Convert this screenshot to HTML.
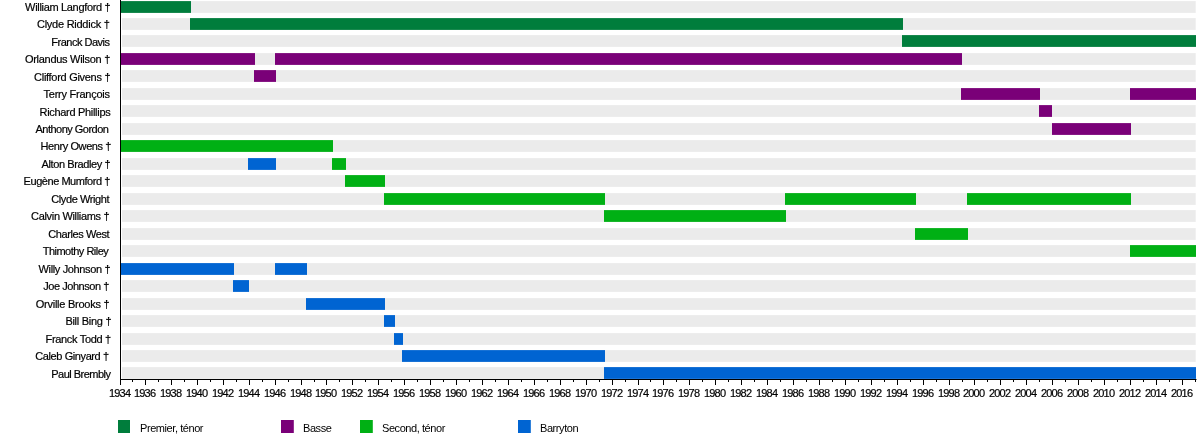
<!DOCTYPE html>
<html><head><meta charset="utf-8"><title>Timeline</title>
<style>
html,body{margin:0;padding:0;background:#fff;}
body{width:1200px;height:448px;overflow:hidden;position:relative;font-family:"Liberation Sans",sans-serif;}
svg{position:absolute;left:0;top:0;}
text{font-family:"Liberation Sans",sans-serif;fill:#000;stroke:#000;stroke-width:0.2px;}
.n{font-size:11px;}
.y{font-size:11px;text-anchor:middle;letter-spacing:-0.8px;}
.l{font-size:11px;letter-spacing:-0.43px;stroke:none;}
</style></head><body>
<svg width="1200" height="448" viewBox="0 0 1200 448">
<rect width="1200" height="448" fill="#fff"/>
<rect x="122" y="1.10" width="1073.7" height="11.8" fill="#ebebeb"/>
<rect x="122" y="18.10" width="1073.7" height="11.8" fill="#ebebeb"/>
<rect x="122" y="35.10" width="1073.7" height="11.8" fill="#ebebeb"/>
<rect x="122" y="53.10" width="1073.7" height="11.8" fill="#ebebeb"/>
<rect x="122" y="70.10" width="1073.7" height="11.8" fill="#ebebeb"/>
<rect x="122" y="88.10" width="1073.7" height="11.8" fill="#ebebeb"/>
<rect x="122" y="105.10" width="1073.7" height="11.8" fill="#ebebeb"/>
<rect x="122" y="123.10" width="1073.7" height="11.8" fill="#ebebeb"/>
<rect x="122" y="140.10" width="1073.7" height="11.8" fill="#ebebeb"/>
<rect x="122" y="158.10" width="1073.7" height="11.8" fill="#ebebeb"/>
<rect x="122" y="175.10" width="1073.7" height="11.8" fill="#ebebeb"/>
<rect x="122" y="193.10" width="1073.7" height="11.8" fill="#ebebeb"/>
<rect x="122" y="210.10" width="1073.7" height="11.8" fill="#ebebeb"/>
<rect x="122" y="228.10" width="1073.7" height="11.8" fill="#ebebeb"/>
<rect x="122" y="245.10" width="1073.7" height="11.8" fill="#ebebeb"/>
<rect x="122" y="263.10" width="1073.7" height="11.8" fill="#ebebeb"/>
<rect x="122" y="280.10" width="1073.7" height="11.8" fill="#ebebeb"/>
<rect x="122" y="298.10" width="1073.7" height="11.8" fill="#ebebeb"/>
<rect x="122" y="315.10" width="1073.7" height="11.8" fill="#ebebeb"/>
<rect x="122" y="333.10" width="1073.7" height="11.8" fill="#ebebeb"/>
<rect x="122" y="350.10" width="1073.7" height="11.8" fill="#ebebeb"/>
<rect x="122" y="367.10" width="1073.7" height="11.8" fill="#ebebeb"/>
<rect x="120" y="1.10" width="71" height="11.8" fill="#007d3c"/>
<rect x="190" y="18.10" width="713" height="11.8" fill="#007d3c"/>
<rect x="902" y="35.10" width="294" height="11.8" fill="#007d3c"/>
<rect x="120" y="53.10" width="135" height="11.8" fill="#7a0078"/>
<rect x="275" y="53.10" width="687" height="11.8" fill="#7a0078"/>
<rect x="254" y="70.10" width="22" height="11.8" fill="#7a0078"/>
<rect x="961" y="88.10" width="79" height="11.8" fill="#7a0078"/>
<rect x="1130" y="88.10" width="66" height="11.8" fill="#7a0078"/>
<rect x="1039" y="105.10" width="13" height="11.8" fill="#7a0078"/>
<rect x="1052" y="123.10" width="79" height="11.8" fill="#7a0078"/>
<rect x="120" y="140.10" width="213" height="11.8" fill="#00b014"/>
<rect x="248" y="158.10" width="28" height="11.8" fill="#0064d2"/>
<rect x="332" y="158.10" width="14" height="11.8" fill="#00b014"/>
<rect x="345" y="175.10" width="40" height="11.8" fill="#00b014"/>
<rect x="384" y="193.10" width="221" height="11.8" fill="#00b014"/>
<rect x="785" y="193.10" width="131" height="11.8" fill="#00b014"/>
<rect x="967" y="193.10" width="164" height="11.8" fill="#00b014"/>
<rect x="604" y="210.10" width="182" height="11.8" fill="#00b014"/>
<rect x="915" y="228.10" width="53" height="11.8" fill="#00b014"/>
<rect x="1130" y="245.10" width="66" height="11.8" fill="#00b014"/>
<rect x="120" y="263.10" width="114" height="11.8" fill="#0064d2"/>
<rect x="275" y="263.10" width="32" height="11.8" fill="#0064d2"/>
<rect x="233" y="280.10" width="16" height="11.8" fill="#0064d2"/>
<rect x="306" y="298.10" width="79" height="11.8" fill="#0064d2"/>
<rect x="384" y="315.10" width="11" height="11.8" fill="#0064d2"/>
<rect x="394" y="333.10" width="9" height="11.8" fill="#0064d2"/>
<rect x="402" y="350.10" width="203" height="11.8" fill="#0064d2"/>
<rect x="604" y="367.10" width="592" height="11.8" fill="#0064d2"/>
<rect x="120" y="0" width="1" height="380" fill="#000"/>
<rect x="120" y="379" width="1076.5" height="1" fill="#000"/>
<rect x="120" y="379" width="1" height="6" fill="#000"/>
<rect x="132" y="379" width="1" height="3" fill="#000"/>
<rect x="145" y="379" width="1" height="6" fill="#000"/>
<rect x="158" y="379" width="1" height="3" fill="#000"/>
<rect x="171" y="379" width="1" height="6" fill="#000"/>
<rect x="184" y="379" width="1" height="3" fill="#000"/>
<rect x="197" y="379" width="1" height="6" fill="#000"/>
<rect x="210" y="379" width="1" height="3" fill="#000"/>
<rect x="223" y="379" width="1" height="6" fill="#000"/>
<rect x="236" y="379" width="1" height="3" fill="#000"/>
<rect x="249" y="379" width="1" height="6" fill="#000"/>
<rect x="262" y="379" width="1" height="3" fill="#000"/>
<rect x="275" y="379" width="1" height="6" fill="#000"/>
<rect x="288" y="379" width="1" height="3" fill="#000"/>
<rect x="301" y="379" width="1" height="6" fill="#000"/>
<rect x="314" y="379" width="1" height="3" fill="#000"/>
<rect x="326" y="379" width="1" height="6" fill="#000"/>
<rect x="339" y="379" width="1" height="3" fill="#000"/>
<rect x="352" y="379" width="1" height="6" fill="#000"/>
<rect x="365" y="379" width="1" height="3" fill="#000"/>
<rect x="378" y="379" width="1" height="6" fill="#000"/>
<rect x="391" y="379" width="1" height="3" fill="#000"/>
<rect x="404" y="379" width="1" height="6" fill="#000"/>
<rect x="417" y="379" width="1" height="3" fill="#000"/>
<rect x="430" y="379" width="1" height="6" fill="#000"/>
<rect x="443" y="379" width="1" height="3" fill="#000"/>
<rect x="456" y="379" width="1" height="6" fill="#000"/>
<rect x="469" y="379" width="1" height="3" fill="#000"/>
<rect x="482" y="379" width="1" height="6" fill="#000"/>
<rect x="495" y="379" width="1" height="3" fill="#000"/>
<rect x="508" y="379" width="1" height="6" fill="#000"/>
<rect x="521" y="379" width="1" height="3" fill="#000"/>
<rect x="534" y="379" width="1" height="6" fill="#000"/>
<rect x="547" y="379" width="1" height="3" fill="#000"/>
<rect x="560" y="379" width="1" height="6" fill="#000"/>
<rect x="573" y="379" width="1" height="3" fill="#000"/>
<rect x="586" y="379" width="1" height="6" fill="#000"/>
<rect x="599" y="379" width="1" height="3" fill="#000"/>
<rect x="612" y="379" width="1" height="6" fill="#000"/>
<rect x="625" y="379" width="1" height="3" fill="#000"/>
<rect x="638" y="379" width="1" height="6" fill="#000"/>
<rect x="650" y="379" width="1" height="3" fill="#000"/>
<rect x="663" y="379" width="1" height="6" fill="#000"/>
<rect x="676" y="379" width="1" height="3" fill="#000"/>
<rect x="689" y="379" width="1" height="6" fill="#000"/>
<rect x="702" y="379" width="1" height="3" fill="#000"/>
<rect x="715" y="379" width="1" height="6" fill="#000"/>
<rect x="728" y="379" width="1" height="3" fill="#000"/>
<rect x="741" y="379" width="1" height="6" fill="#000"/>
<rect x="754" y="379" width="1" height="3" fill="#000"/>
<rect x="767" y="379" width="1" height="6" fill="#000"/>
<rect x="780" y="379" width="1" height="3" fill="#000"/>
<rect x="793" y="379" width="1" height="6" fill="#000"/>
<rect x="806" y="379" width="1" height="3" fill="#000"/>
<rect x="819" y="379" width="1" height="6" fill="#000"/>
<rect x="832" y="379" width="1" height="3" fill="#000"/>
<rect x="845" y="379" width="1" height="6" fill="#000"/>
<rect x="858" y="379" width="1" height="3" fill="#000"/>
<rect x="871" y="379" width="1" height="6" fill="#000"/>
<rect x="884" y="379" width="1" height="3" fill="#000"/>
<rect x="897" y="379" width="1" height="6" fill="#000"/>
<rect x="910" y="379" width="1" height="3" fill="#000"/>
<rect x="923" y="379" width="1" height="6" fill="#000"/>
<rect x="936" y="379" width="1" height="3" fill="#000"/>
<rect x="949" y="379" width="1" height="6" fill="#000"/>
<rect x="962" y="379" width="1" height="3" fill="#000"/>
<rect x="974" y="379" width="1" height="6" fill="#000"/>
<rect x="987" y="379" width="1" height="3" fill="#000"/>
<rect x="1000" y="379" width="1" height="6" fill="#000"/>
<rect x="1013" y="379" width="1" height="3" fill="#000"/>
<rect x="1026" y="379" width="1" height="6" fill="#000"/>
<rect x="1039" y="379" width="1" height="3" fill="#000"/>
<rect x="1052" y="379" width="1" height="6" fill="#000"/>
<rect x="1065" y="379" width="1" height="3" fill="#000"/>
<rect x="1078" y="379" width="1" height="6" fill="#000"/>
<rect x="1091" y="379" width="1" height="3" fill="#000"/>
<rect x="1104" y="379" width="1" height="6" fill="#000"/>
<rect x="1117" y="379" width="1" height="3" fill="#000"/>
<rect x="1130" y="379" width="1" height="6" fill="#000"/>
<rect x="1143" y="379" width="1" height="3" fill="#000"/>
<rect x="1156" y="379" width="1" height="6" fill="#000"/>
<rect x="1169" y="379" width="1" height="3" fill="#000"/>
<rect x="1182" y="379" width="1" height="6" fill="#000"/>
<rect x="1195" y="379" width="1" height="3" fill="#000"/>
<rect x="118" y="420" width="12" height="13" fill="#007d3c"/>
<rect x="281" y="420" width="12.8" height="13" fill="#7a0078"/>
<rect x="360" y="420" width="12.8" height="13" fill="#00b014"/>
<rect x="518" y="420" width="12.8" height="13" fill="#0064d2"/>
<g style="filter:grayscale(1)">
<text class="n" x="25.10" y="11" style="letter-spacing:-0.324px">William Langford †</text>
<text class="n" x="37.00" y="28" style="letter-spacing:-0.257px">Clyde Riddick †</text>
<text class="n" x="51.30" y="46" style="letter-spacing:-0.500px">Franck Davis</text>
<text class="n" x="24.90" y="63" style="letter-spacing:-0.281px">Orlandus Wilson †</text>
<text class="n" x="34.10" y="81" style="letter-spacing:-0.294px">Clifford Givens †</text>
<text class="n" x="43.50" y="98" style="letter-spacing:-0.246px">Terry François</text>
<text class="n" x="39.50" y="116" style="letter-spacing:-0.307px">Richard Phillips</text>
<text class="n" x="35.50" y="133" style="letter-spacing:-0.515px">Anthony Gordon</text>
<text class="n" x="40.50" y="150" style="letter-spacing:-0.408px">Henry Owens †</text>
<text class="n" x="41.50" y="168" style="letter-spacing:-0.393px">Alton Bradley †</text>
<text class="n" x="23.60" y="185" style="letter-spacing:-0.453px">Eugène Mumford †</text>
<text class="n" x="51.30" y="203" style="letter-spacing:-0.409px">Clyde Wright</text>
<text class="n" x="31.10" y="220" style="letter-spacing:-0.325px">Calvin Williams †</text>
<text class="n" x="48.30" y="238" style="letter-spacing:-0.409px">Charles West</text>
<text class="n" x="42.70" y="255" style="letter-spacing:-0.508px">Thimothy Riley</text>
<text class="n" x="38.50" y="273" style="letter-spacing:-0.350px">Willy Johnson †</text>
<text class="n" x="43.20" y="290" style="letter-spacing:-0.450px">Joe Johnson †</text>
<text class="n" x="35.80" y="308" style="letter-spacing:-0.260px">Orville Brooks †</text>
<text class="n" x="65.40" y="325" style="letter-spacing:-0.280px">Bill Bing †</text>
<text class="n" x="45.50" y="343" style="letter-spacing:-0.325px">Franck Todd †</text>
<text class="n" x="35.30" y="360" style="letter-spacing:-0.407px">Caleb Ginyard †</text>
<text class="n" x="51.30" y="378" style="letter-spacing:-0.518px">Paul Brembly</text>
<text class="y" x="119.60" y="397">1934</text>
<text class="y" x="144.60" y="397">1936</text>
<text class="y" x="170.60" y="397">1938</text>
<text class="y" x="196.60" y="397">1940</text>
<text class="y" x="222.60" y="397">1942</text>
<text class="y" x="248.60" y="397">1944</text>
<text class="y" x="274.60" y="397">1946</text>
<text class="y" x="300.60" y="397">1948</text>
<text class="y" x="325.60" y="397">1950</text>
<text class="y" x="351.60" y="397">1952</text>
<text class="y" x="377.60" y="397">1954</text>
<text class="y" x="403.60" y="397">1956</text>
<text class="y" x="429.60" y="397">1958</text>
<text class="y" x="455.60" y="397">1960</text>
<text class="y" x="481.60" y="397">1962</text>
<text class="y" x="507.60" y="397">1964</text>
<text class="y" x="533.60" y="397">1966</text>
<text class="y" x="559.60" y="397">1968</text>
<text class="y" x="585.60" y="397">1970</text>
<text class="y" x="611.60" y="397">1972</text>
<text class="y" x="637.60" y="397">1974</text>
<text class="y" x="662.60" y="397">1976</text>
<text class="y" x="688.60" y="397">1978</text>
<text class="y" x="714.60" y="397">1980</text>
<text class="y" x="740.60" y="397">1982</text>
<text class="y" x="766.60" y="397">1984</text>
<text class="y" x="792.60" y="397">1986</text>
<text class="y" x="818.60" y="397">1988</text>
<text class="y" x="844.60" y="397">1990</text>
<text class="y" x="870.60" y="397">1992</text>
<text class="y" x="896.60" y="397">1994</text>
<text class="y" x="922.60" y="397">1996</text>
<text class="y" x="948.60" y="397">1998</text>
<text class="y" x="973.60" y="397">2000</text>
<text class="y" x="999.60" y="397">2002</text>
<text class="y" x="1025.60" y="397">2004</text>
<text class="y" x="1051.60" y="397">2006</text>
<text class="y" x="1077.60" y="397">2008</text>
<text class="y" x="1103.60" y="397">2010</text>
<text class="y" x="1129.60" y="397">2012</text>
<text class="y" x="1155.60" y="397">2014</text>
<text class="y" x="1181.60" y="397">2016</text>
<text class="l" x="140" y="432">Premier, ténor</text>
<text class="l" x="303" y="432">Basse</text>
<text class="l" x="382" y="432">Second, ténor</text>
<text class="l" x="540" y="432">Barryton</text>
</g>
</svg></body></html>
